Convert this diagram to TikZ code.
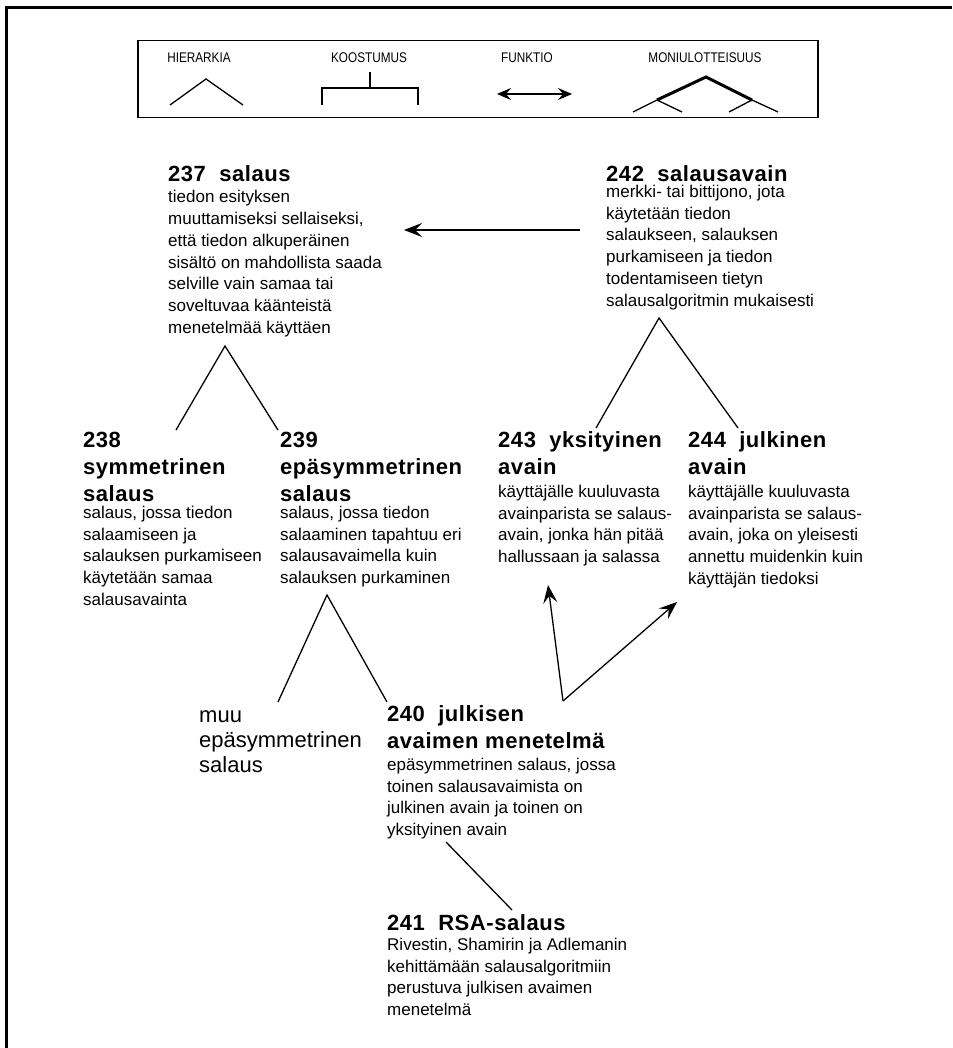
\documentclass[tikz,border=0pt]{standalone}
\usepackage{fontspec}
\setmainfont{Liberation Sans}
\newfontfamily\ttlfont[LetterSpace=2.5]{Liberation Sans}
\newfontfamily\legfont[FakeStretch=0.84]{Liberation Sans}
\usetikzlibrary{arrows.meta}
\newcommand\topstrut{\rule{0pt}{18pt}}
\begin{document}
\begin{tikzpicture}[x=1pt,y=-1pt,
  term/.style={anchor=north west,inner sep=0pt,align=left,yshift=18pt,
    font={\ttlfont\bfseries\fontsize{22pt}{27pt}\selectfont}},
  plain/.style={anchor=north west,inner sep=0pt,align=left,yshift=18pt,
    font={\fontsize{22pt}{25pt}\selectfont}},
  defn/.style={anchor=north west,inner sep=0pt,align=left,yshift=18pt,
    font={\fontsize{17pt}{21.8pt}\selectfont}},
  legtext/.style={inner sep=0pt,anchor=base,font={\legfont\fontsize{14pt}{16pt}\selectfont}},
  tree/.style={line width=1.3pt},
  rel/.style={line width=1.3pt,-{Stealth[length=18pt,width=14pt,inset=7pt]}},
  frame/.style={line width=3pt}]
\useasboundingbox (0,0) rectangle (952,1048);

% outer frame (top and left edges)
\coordinate (ftl) at (6,8);
\coordinate (ftr) at (952,8);
\coordinate (fbl) at (6,1048);
\draw[frame] (ftr) -- (ftl) -- (fbl);

% legend
\node[draw,line width=1.5pt,minimum width=680pt,minimum height=77pt,inner sep=0pt,anchor=north west] (legend) at (137,40) {};
\node[legtext] (lh) at (199,63) {HIERARKIA};
\node[legtext] (lk) at (369,63) {KOOSTUMUS};
\node[legtext] (lf) at (527,63) {FUNKTIO};
\node[legtext] (lm) at (705,63) {MONIULOTTEISUUS};
\coordinate (hp) at (206,79);
\coordinate (hl) at (170,105);
\coordinate (hr) at (243,105);
\draw[tree] (hl) -- (hp) -- (hr);
\coordinate (ks) at (370,72);
\coordinate (kj) at (370,88);
\coordinate (kl) at (322,105);
\coordinate (kr) at (418,105);
\draw[tree] (ks) -- (kj);
\draw[tree] (kl) |- (kj) -| (kr);
\coordinate (fa) at (497,94);
\coordinate (fb) at (572,94);
\draw[line width=1.3pt,{Stealth[length=14pt,width=12pt,inset=5pt]}-{Stealth[length=14pt,width=12pt,inset=5pt]}] (fa) -- (fb);
\coordinate (mp) at (706,77);
\coordinate (ml) at (657,100);
\coordinate (mr) at (752,100);
\coordinate (ml1) at (633,112);
\coordinate (ml2) at (682,112);
\coordinate (mr1) at (729,112);
\coordinate (mr2) at (778,112);
\draw[line width=3pt] (ml) -- (mp) -- (mr);
\draw[tree] (ml1) -- (ml) -- (ml2);
\draw[tree] (mr1) -- (mr) -- (mr2);

% 237
\node[term] (t237) at (168,181) {\topstrut 237\ \ salaus};
\node[defn] (d237) at (168,202.5) {\topstrut tiedon esityksen\\
muuttamiseksi sellaiseksi,\\
että tiedon alkuperäinen\\
sisältö on mahdollista saada\\
selville vain samaa tai\\
soveltuvaa käänteistä\\
menetelmää käyttäen};

% 242
\node[term] (t242) at (606,181) {\topstrut 242\ \ salausavain};
\node[defn] (d242) at (606,197) {\topstrut merkki- tai bittijono, jota\\
käytetään tiedon\\
salaukseen, salauksen\\
purkamiseen ja tiedon\\
todentamiseen tietyn\\
salausalgoritmin mukaisesti};

% 238
\node[term] (t238) at (83,447) {\topstrut 238\\symmetrinen\\salaus};
\node[defn] (d238) at (83,518) {\topstrut salaus, jossa tiedon\\
salaamiseen ja\\
salauksen purkamiseen\\
käytetään samaa\\
salausavainta};

% 239
\node[term] (t239) at (280,447) {\topstrut 239\\epäsymmetrinen\\salaus};
\node[defn] (d239) at (280,518) {\topstrut salaus, jossa tiedon\\
salaaminen tapahtuu eri\\
salausavaimella kuin\\
salauksen purkaminen};

% 243
\node[term] (t243) at (498,447) {\topstrut 243\ \ yksityinen\\avain};
\node[defn] (d243) at (498,497) {\topstrut käyttäjälle kuuluvasta\\
avainparista se salaus-\\
avain, jonka hän pitää\\
hallussaan ja salassa};

% 244
\node[term] (t244) at (688,447) {\topstrut 244\ \ julkinen\\avain};
\node[defn] (d244) at (688,497) {\topstrut käyttäjälle kuuluvasta\\
avainparista se salaus-\\
avain, joka on yleisesti\\
annettu muidenkin kuin\\
käyttäjän tiedoksi};

% other asymmetric encryption
\node[plain] (muu) at (199,722) {\topstrut muu\\epäsymmetrinen\\salaus};

% 240
\node[term] (t240) at (387,721) {\topstrut 240\ \ julkisen\\avaimen menetelmä};
\node[defn] (d240) at (387,770) {\topstrut epäsymmetrinen salaus, jossa\\
toinen salausavaimista on\\
julkinen avain ja toinen on\\
yksityinen avain};

% 241
\node[term] (t241) at (387,930) {\topstrut 241\ \ RSA-salaus};
\node[defn] (d241) at (387,950) {\topstrut Rivestin, Shamirin ja Adlemanin\\
kehittämään salausalgoritmiin\\
perustuva julkisen avaimen\\
menetelmä};

% connector end points
\coordinate (p237) at (225,346);
\coordinate (f238) at (176,430);
\coordinate (f239) at (278,430);
\coordinate (p239) at (327,595);
\coordinate (fmuu) at (278,702);
\coordinate (f240) at (387,702);
\coordinate (p242) at (659,318);
\coordinate (f243) at (596,428);
\coordinate (f244) at (738,428);
\coordinate (a242) at (580,230);
\coordinate (a237) at (404,230);
\coordinate (o240) at (563,701);
\coordinate (a243) at (548,585);
\coordinate (a244) at (677,602);
\coordinate (s240) at (446,842);
\coordinate (s241) at (512,910);

% hierarchies
\draw[tree] (f238) -- (p237) -- (f239);
\draw[tree] (fmuu) -- (p239) -- (f240);
\draw[tree] (f243) -- (p242) -- (f244);
\draw[tree] (s240) -- (s241);

% functional relations
\draw[rel] (a242) -- (a237);
\draw[rel] (o240) -- (a243);
\draw[rel] (o240) -- (a244);
\end{tikzpicture}
\end{document}
